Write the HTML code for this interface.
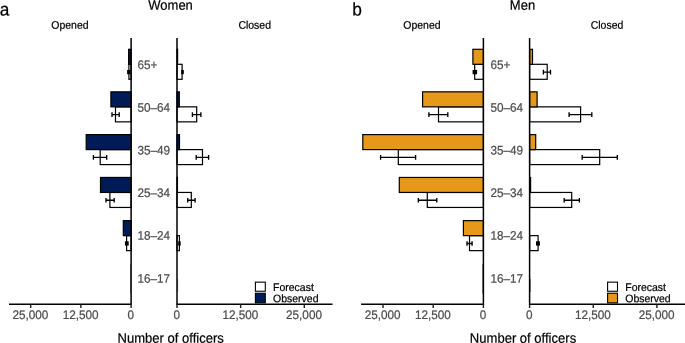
<!DOCTYPE html>
<html><head><meta charset="utf-8"><title>Figure</title>
<style>html,body{margin:0;padding:0;background:#fff;}svg{display:block;will-change:transform;}text{font-family:"Liberation Sans",sans-serif;}</style></head><body>
<svg width="685" height="343" viewBox="0 0 685 343">
<rect width="685" height="343" fill="#fff"/>
<rect x="128.90" y="64.30" width="2.20" height="15.00" fill="#fff" stroke="#000" stroke-width="1.2"/>
<rect x="128.60" y="49.30" width="2.50" height="15.00" fill="#001B55" stroke="#000" stroke-width="1.2"/>
<rect x="127.10" y="69.95" width="3.40" height="4.30" fill="#000"/>
<rect x="177.00" y="64.30" width="5.10" height="15.00" fill="#fff" stroke="#000" stroke-width="1.2"/>
<rect x="177.00" y="49.30" width="0.60" height="15.00" fill="#001B55" stroke="#000" stroke-width="1.2"/>
<rect x="181.20" y="69.95" width="2.60" height="4.30" fill="#000"/>
<text transform="translate(137.40 69.00) rotate(0.03) scale(1 1.06)" font-size="11.73" fill="#4d4d4d" stroke="#4d4d4d" stroke-width="0.22">65+</text>
<rect x="115.50" y="106.85" width="15.60" height="15.00" fill="#fff" stroke="#000" stroke-width="1.2"/>
<rect x="110.90" y="91.85" width="20.20" height="15.00" fill="#001B55" stroke="#000" stroke-width="1.2"/>
<path d="M112.00 114.65H119.20M112.00 112.35V116.95M119.20 112.35V116.95" fill="none" stroke="#000" stroke-width="1.35"/>
<rect x="177.00" y="106.85" width="19.70" height="15.00" fill="#fff" stroke="#000" stroke-width="1.2"/>
<rect x="177.00" y="91.85" width="2.30" height="15.00" fill="#001B55" stroke="#000" stroke-width="1.2"/>
<path d="M192.40 114.65H200.90M192.40 112.35V116.95M200.90 112.35V116.95" fill="none" stroke="#000" stroke-width="1.35"/>
<text transform="translate(137.40 111.70) rotate(0.03) scale(1 1.06)" font-size="11.73" fill="#4d4d4d" stroke="#4d4d4d" stroke-width="0.22">50–64</text>
<rect x="100.20" y="149.60" width="30.90" height="15.00" fill="#fff" stroke="#000" stroke-width="1.2"/>
<rect x="86.20" y="134.60" width="44.90" height="15.00" fill="#001B55" stroke="#000" stroke-width="1.2"/>
<path d="M93.40 157.40H106.70M93.40 155.10V159.70M106.70 155.10V159.70" fill="none" stroke="#000" stroke-width="1.35"/>
<rect x="177.00" y="149.60" width="25.50" height="15.00" fill="#fff" stroke="#000" stroke-width="1.2"/>
<rect x="177.00" y="134.60" width="2.50" height="15.00" fill="#001B55" stroke="#000" stroke-width="1.2"/>
<path d="M196.20 157.40H208.60M196.20 155.10V159.70M208.60 155.10V159.70" fill="none" stroke="#000" stroke-width="1.35"/>
<text transform="translate(137.40 154.40) rotate(0.03) scale(1 1.06)" font-size="11.73" fill="#4d4d4d" stroke="#4d4d4d" stroke-width="0.22">35–49</text>
<rect x="109.90" y="192.45" width="21.20" height="15.00" fill="#fff" stroke="#000" stroke-width="1.2"/>
<rect x="100.50" y="177.45" width="30.60" height="15.00" fill="#001B55" stroke="#000" stroke-width="1.2"/>
<path d="M106.00 200.25H114.20M106.00 197.95V202.55M114.20 197.95V202.55" fill="none" stroke="#000" stroke-width="1.35"/>
<rect x="177.00" y="192.45" width="14.30" height="15.00" fill="#fff" stroke="#000" stroke-width="1.2"/>
<rect x="177.00" y="177.45" width="0.45" height="15.00" fill="#001B55" stroke="#000" stroke-width="1.2"/>
<path d="M187.70 200.25H195.10M187.70 197.95V202.55M195.10 197.95V202.55" fill="none" stroke="#000" stroke-width="1.35"/>
<text transform="translate(137.40 196.95) rotate(0.03) scale(1 1.06)" font-size="11.73" fill="#4d4d4d" stroke="#4d4d4d" stroke-width="0.22">25–34</text>
<rect x="126.60" y="235.65" width="4.50" height="15.00" fill="#fff" stroke="#000" stroke-width="1.2"/>
<rect x="123.30" y="220.65" width="7.80" height="15.00" fill="#001B55" stroke="#000" stroke-width="1.2"/>
<rect x="124.90" y="241.30" width="3.80" height="4.30" fill="#000"/>
<rect x="177.00" y="235.65" width="2.40" height="15.00" fill="#fff" stroke="#000" stroke-width="1.2"/>
<rect x="178.20" y="241.30" width="2.50" height="4.30" fill="#000"/>
<text transform="translate(137.40 239.75) rotate(0.03) scale(1 1.06)" font-size="11.73" fill="#4d4d4d" stroke="#4d4d4d" stroke-width="0.22">18–24</text>
<text transform="translate(137.40 282.70) rotate(0.03) scale(1 1.06)" font-size="11.73" fill="#4d4d4d" stroke="#4d4d4d" stroke-width="0.22">16–17</text>
<rect x="130.10" y="264" width="0.4" height="29.5" fill="#000"/>
<rect x="177.65" y="279" width="0.4" height="13" fill="#000"/>
<path d="M131.1 38.0V304.2M177.0 38.0V304.2M9.0 304.2H131.85M176.25 304.2H332.5" fill="none" stroke="#000" stroke-width="1.5"/>
<text transform="translate(130.80 319.00) rotate(0.03) scale(1 1.06)" font-size="11.73" fill="#4d4d4d" text-anchor="middle" stroke="#4d4d4d" stroke-width="0.22">0</text>
<text transform="translate(176.70 319.00) rotate(0.03) scale(1 1.06)" font-size="11.73" fill="#4d4d4d" text-anchor="middle" stroke="#4d4d4d" stroke-width="0.22">0</text>
<text transform="translate(80.60 319.00) rotate(0.03) scale(1 1.06)" font-size="11.73" fill="#4d4d4d" text-anchor="middle" stroke="#4d4d4d" stroke-width="0.22">12,500</text>
<text transform="translate(240.35 319.00) rotate(0.03) scale(1 1.06)" font-size="11.73" fill="#4d4d4d" text-anchor="middle" stroke="#4d4d4d" stroke-width="0.22">12,500</text>
<text transform="translate(30.40 319.00) rotate(0.03) scale(1 1.06)" font-size="11.73" fill="#4d4d4d" text-anchor="middle" stroke="#4d4d4d" stroke-width="0.22">25,000</text>
<text transform="translate(304.00 319.00) rotate(0.03) scale(1 1.06)" font-size="11.73" fill="#4d4d4d" text-anchor="middle" stroke="#4d4d4d" stroke-width="0.22">25,000</text>
<path d="M131.10 304.2v3.9M177.00 304.2v3.9M80.90 304.2v3.9M240.65 304.2v3.9M30.70 304.2v3.9M304.30 304.2v3.9" fill="none" stroke="#1f1f1f" stroke-width="1.4"/>
<text transform="translate(170.60 9.65) rotate(0.03) scale(1 1.06)" font-size="13.0" fill="#000" text-anchor="middle" stroke="#000" stroke-width="0.2">Women</text>
<text transform="translate(-0.30 15.40) rotate(0.03) scale(1 1.06)" font-size="17.3" fill="#000" stroke="#000" stroke-width="0.2">a</text>
<text transform="translate(69.90 28.75) rotate(0.03) scale(1 1.06)" font-size="10.5" fill="#000" text-anchor="middle" stroke="#000" stroke-width="0.2">Opened</text>
<text transform="translate(254.70 28.85) rotate(0.03) scale(1 1.06)" font-size="10.5" fill="#000" text-anchor="middle" stroke="#000" stroke-width="0.2">Closed</text>
<text transform="translate(170.70 342.80) rotate(0.03) scale(1 1.06)" font-size="13.05" fill="#000" text-anchor="middle" stroke="#000" stroke-width="0.2">Number of officers</text>
<rect x="255.40" y="282.15" width="9.9" height="9.1" fill="#fff" stroke="#000" stroke-width="1.1"/>
<rect x="255.40" y="293.25" width="9.9" height="9.6" fill="#001B55" stroke="#000" stroke-width="1.1"/>
<text transform="translate(273.05 291.10) rotate(0.03) scale(1 1.06)" font-size="10.5" fill="#000" stroke="#000" stroke-width="0.2">Forecast</text>
<text transform="translate(273.05 302.20) rotate(0.03) scale(1 1.06)" font-size="10.5" fill="#000" stroke="#000" stroke-width="0.2">Observed</text>
<rect x="474.70" y="64.30" width="8.70" height="15.00" fill="#fff" stroke="#000" stroke-width="1.2"/>
<rect x="472.90" y="49.30" width="10.50" height="15.00" fill="#E6981A" stroke="#000" stroke-width="1.2"/>
<rect x="472.60" y="69.95" width="4.50" height="4.30" fill="#000"/>
<rect x="529.60" y="64.30" width="17.60" height="15.00" fill="#fff" stroke="#000" stroke-width="1.2"/>
<rect x="529.60" y="49.30" width="2.90" height="15.00" fill="#E6981A" stroke="#000" stroke-width="1.2"/>
<path d="M543.40 72.10H550.50M543.40 69.80V74.40M550.50 69.80V74.40" fill="none" stroke="#000" stroke-width="1.35"/>
<text transform="translate(490.40 69.00) rotate(0.03) scale(1 1.06)" font-size="11.73" fill="#4d4d4d" stroke="#4d4d4d" stroke-width="0.22">65+</text>
<rect x="438.50" y="106.85" width="44.90" height="15.00" fill="#fff" stroke="#000" stroke-width="1.2"/>
<rect x="422.60" y="91.85" width="60.80" height="15.00" fill="#E6981A" stroke="#000" stroke-width="1.2"/>
<path d="M428.90 114.65H447.80M428.90 112.35V116.95M447.80 112.35V116.95" fill="none" stroke="#000" stroke-width="1.35"/>
<rect x="529.60" y="106.85" width="51.00" height="15.00" fill="#fff" stroke="#000" stroke-width="1.2"/>
<rect x="529.60" y="91.85" width="7.50" height="15.00" fill="#E6981A" stroke="#000" stroke-width="1.2"/>
<path d="M569.10 114.65H591.80M569.10 112.35V116.95M591.80 112.35V116.95" fill="none" stroke="#000" stroke-width="1.35"/>
<text transform="translate(490.40 111.70) rotate(0.03) scale(1 1.06)" font-size="11.73" fill="#4d4d4d" stroke="#4d4d4d" stroke-width="0.22">50–64</text>
<rect x="398.30" y="149.60" width="85.10" height="15.00" fill="#fff" stroke="#000" stroke-width="1.2"/>
<rect x="362.80" y="134.60" width="120.60" height="15.00" fill="#E6981A" stroke="#000" stroke-width="1.2"/>
<path d="M380.60 157.40H415.60M380.60 155.10V159.70M415.60 155.10V159.70" fill="none" stroke="#000" stroke-width="1.35"/>
<rect x="529.60" y="149.60" width="70.10" height="15.00" fill="#fff" stroke="#000" stroke-width="1.2"/>
<rect x="529.60" y="134.60" width="6.10" height="15.00" fill="#E6981A" stroke="#000" stroke-width="1.2"/>
<path d="M582.20 157.40H617.30M582.20 155.10V159.70M617.30 155.10V159.70" fill="none" stroke="#000" stroke-width="1.35"/>
<text transform="translate(490.40 154.40) rotate(0.03) scale(1 1.06)" font-size="11.73" fill="#4d4d4d" stroke="#4d4d4d" stroke-width="0.22">35–49</text>
<rect x="427.30" y="192.45" width="56.10" height="15.00" fill="#fff" stroke="#000" stroke-width="1.2"/>
<rect x="399.30" y="177.45" width="84.10" height="15.00" fill="#E6981A" stroke="#000" stroke-width="1.2"/>
<path d="M418.30 200.25H436.80M418.30 197.95V202.55M436.80 197.95V202.55" fill="none" stroke="#000" stroke-width="1.35"/>
<rect x="529.60" y="192.45" width="42.10" height="15.00" fill="#fff" stroke="#000" stroke-width="1.2"/>
<rect x="529.60" y="177.45" width="1.00" height="15.00" fill="#E6981A" stroke="#000" stroke-width="1.2"/>
<path d="M564.20 200.25H579.40M564.20 197.95V202.55M579.40 197.95V202.55" fill="none" stroke="#000" stroke-width="1.35"/>
<text transform="translate(490.40 196.95) rotate(0.03) scale(1 1.06)" font-size="11.73" fill="#4d4d4d" stroke="#4d4d4d" stroke-width="0.22">25–34</text>
<rect x="469.50" y="235.65" width="13.90" height="15.00" fill="#fff" stroke="#000" stroke-width="1.2"/>
<rect x="463.40" y="220.65" width="20.00" height="15.00" fill="#E6981A" stroke="#000" stroke-width="1.2"/>
<path d="M467.00 243.45H472.10M467.00 241.15V245.75M472.10 241.15V245.75" fill="none" stroke="#000" stroke-width="1.35"/>
<rect x="529.60" y="235.65" width="8.50" height="15.00" fill="#fff" stroke="#000" stroke-width="1.2"/>
<rect x="536.00" y="241.30" width="3.90" height="4.30" fill="#000"/>
<text transform="translate(490.40 239.75) rotate(0.03) scale(1 1.06)" font-size="11.73" fill="#4d4d4d" stroke="#4d4d4d" stroke-width="0.22">18–24</text>
<text transform="translate(490.40 282.70) rotate(0.03) scale(1 1.06)" font-size="11.73" fill="#4d4d4d" stroke="#4d4d4d" stroke-width="0.22">16–17</text>
<rect x="482.40" y="264" width="0.4" height="29.5" fill="#000"/>
<rect x="530.25" y="279" width="0.4" height="13" fill="#000"/>
<path d="M483.4 38.0V304.2M529.6 38.0V304.2M361.1 304.2H484.15M528.85 304.2H685" fill="none" stroke="#000" stroke-width="1.5"/>
<text transform="translate(483.10 319.00) rotate(0.03) scale(1 1.06)" font-size="11.73" fill="#4d4d4d" text-anchor="middle" stroke="#4d4d4d" stroke-width="0.22">0</text>
<text transform="translate(529.30 319.00) rotate(0.03) scale(1 1.06)" font-size="11.73" fill="#4d4d4d" text-anchor="middle" stroke="#4d4d4d" stroke-width="0.22">0</text>
<text transform="translate(432.90 319.00) rotate(0.03) scale(1 1.06)" font-size="11.73" fill="#4d4d4d" text-anchor="middle" stroke="#4d4d4d" stroke-width="0.22">12,500</text>
<text transform="translate(592.95 319.00) rotate(0.03) scale(1 1.06)" font-size="11.73" fill="#4d4d4d" text-anchor="middle" stroke="#4d4d4d" stroke-width="0.22">12,500</text>
<text transform="translate(382.70 319.00) rotate(0.03) scale(1 1.06)" font-size="11.73" fill="#4d4d4d" text-anchor="middle" stroke="#4d4d4d" stroke-width="0.22">25,000</text>
<text transform="translate(656.60 319.00) rotate(0.03) scale(1 1.06)" font-size="11.73" fill="#4d4d4d" text-anchor="middle" stroke="#4d4d4d" stroke-width="0.22">25,000</text>
<path d="M483.40 304.2v3.9M529.60 304.2v3.9M433.20 304.2v3.9M593.25 304.2v3.9M383.00 304.2v3.9M656.90 304.2v3.9" fill="none" stroke="#1f1f1f" stroke-width="1.4"/>
<text transform="translate(522.50 9.65) rotate(0.03) scale(1 1.06)" font-size="13.0" fill="#000" text-anchor="middle" stroke="#000" stroke-width="0.2">Men</text>
<text transform="translate(352.30 15.40) rotate(0.03) scale(1 1.06)" font-size="17.3" fill="#000" stroke="#000" stroke-width="0.2">b</text>
<text transform="translate(421.90 28.75) rotate(0.03) scale(1 1.06)" font-size="10.5" fill="#000" text-anchor="middle" stroke="#000" stroke-width="0.2">Opened</text>
<text transform="translate(607.00 28.85) rotate(0.03) scale(1 1.06)" font-size="10.5" fill="#000" text-anchor="middle" stroke="#000" stroke-width="0.2">Closed</text>
<text transform="translate(523.00 342.80) rotate(0.03) scale(1 1.06)" font-size="13.05" fill="#000" text-anchor="middle" stroke="#000" stroke-width="0.2">Number of officers</text>
<rect x="607.60" y="282.15" width="9.9" height="9.1" fill="#fff" stroke="#000" stroke-width="1.1"/>
<rect x="607.60" y="293.25" width="9.9" height="9.6" fill="#E6981A" stroke="#000" stroke-width="1.1"/>
<text transform="translate(625.25 291.10) rotate(0.03) scale(1 1.06)" font-size="10.5" fill="#000" stroke="#000" stroke-width="0.2">Forecast</text>
<text transform="translate(625.25 302.20) rotate(0.03) scale(1 1.06)" font-size="10.5" fill="#000" stroke="#000" stroke-width="0.2">Observed</text>
</svg></body></html>
